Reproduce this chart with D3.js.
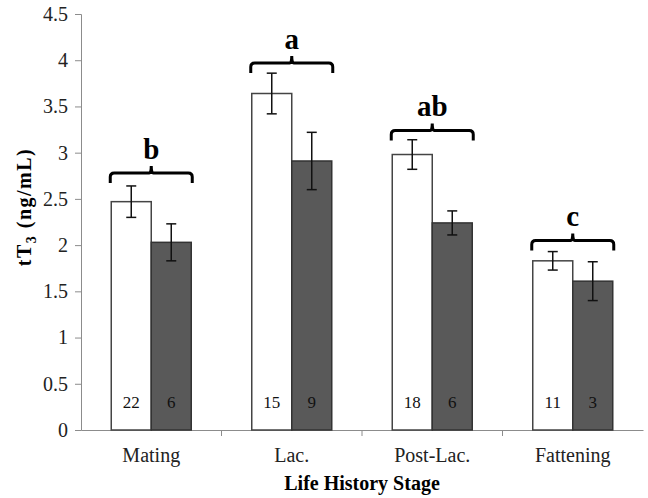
<!DOCTYPE html>
<html>
<head>
<meta charset="utf-8">
<script src="https://cdn.jsdelivr.net/npm/d3@7"></script>
<style>
  body { margin: 0; background: #fff; }
</style>
</head>
<body>
<div id="chart"></div>
<script>
// waarden
const stages = ["Mating", "Lac.", "Post-Lac.", "Fattening"];
const whiteMean = [2.47, 3.64, 2.98, 1.83];
const whiteErr = [0.17, 0.22, 0.16, 0.10];
const darkMean = [2.03, 2.91, 2.24, 1.61];
const darkErr = [0.20, 0.31, 0.13, 0.21];
const whiteN = [22, 15, 18, 11];
const darkN = [6, 9, 6, 3];
const groupLetters = ["b", "a", "ab", "c"];
const bracketLevel = [2.78, 3.97, 3.24, 2.05];
const yTicks = [0, 0.5, 1, 1.5, 2, 2.5, 3, 3.5, 4, 4.5];

const width = 648, height = 498;
const margin = {top: 14, right: 5, bottom: 68, left: 81};
const serif = '"Liberation Serif", "Times New Roman", serif';

const svg = d3.select("#chart").append("svg")
    .attr("width", width)
    .attr("height", height);

const x = d3.scaleBand()
    .domain(stages)
    .range([margin.left, width - margin.right])
    .paddingInner(0)
    .paddingOuter(0);

const y = d3.scaleLinear()
    .domain([0, 4.5])
    .range([height - margin.bottom, margin.top]);

const barW = 40;
const rows = stages.map((s, i) => ({
  stage: s, i,
  cx: x(s) + x.bandwidth() / 2
}));

// y as
const yAxis = svg.append("g")
    .attr("transform", `translate(${margin.left},0)`)
    .call(d3.axisLeft(y).tickValues(yTicks).tickSize(6).tickPadding(7).tickFormat(d3.format("")));
yAxis.selectAll("path, line").attr("stroke", "#8c8c8c");
yAxis.selectAll("text").attr("font-size", 20).attr("fill", "#222").style("font-family", serif);

// x as
const xAxis = svg.append("g")
    .attr("transform", `translate(0,${y(0)})`)
    .call(d3.axisBottom(x).tickSize(0).tickPadding(18));
xAxis.select("path").attr("stroke", "#8c8c8c");
xAxis.selectAll("text").attr("font-size", 20).attr("fill", "#222").style("font-family", serif);
// streepjes tussen de categorieën
svg.append("g").selectAll("line")
    .data(stages.slice(1))
    .join("line")
    .attr("x1", d => x(d)).attr("x2", d => x(d))
    .attr("y1", y(0)).attr("y2", y(0) + 6)
    .attr("stroke", "#8c8c8c");

// staven
const bars = [
  {key: "w", mean: whiteMean, err: whiteErr, n: whiteN, fill: "#ffffff", stroke: "#444", off: -barW},
  {key: "d", mean: darkMean, err: darkErr, n: darkN, fill: "#595959", stroke: "#333", off: 0}
];

bars.forEach(b => {
  const g = svg.append("g");
  g.selectAll("rect")
    .data(rows)
    .join("rect")
    .attr("x", d => d.cx + b.off)
    .attr("y", d => y(b.mean[d.i]))
    .attr("width", barW)
    .attr("height", d => y(0) - y(b.mean[d.i]))
    .attr("fill", b.fill)
    .attr("stroke", b.stroke)
    .attr("stroke-width", 1.5);

  // foutbalken
  const eg = g.selectAll("g.err")
    .data(rows)
    .join("g")
    .attr("stroke", "#111")
    .attr("stroke-width", 1.5);
  eg.append("line")
    .attr("x1", d => d.cx + b.off + barW / 2).attr("x2", d => d.cx + b.off + barW / 2)
    .attr("y1", d => y(b.mean[d.i] + b.err[d.i]))
    .attr("y2", d => y(b.mean[d.i] - b.err[d.i]));
  eg.append("line")
    .attr("x1", d => d.cx + b.off + barW / 2 - 5).attr("x2", d => d.cx + b.off + barW / 2 + 5)
    .attr("y1", d => y(b.mean[d.i] + b.err[d.i]))
    .attr("y2", d => y(b.mean[d.i] + b.err[d.i]));
  eg.append("line")
    .attr("x1", d => d.cx + b.off + barW / 2 - 5).attr("x2", d => d.cx + b.off + barW / 2 + 5)
    .attr("y1", d => y(b.mean[d.i] - b.err[d.i]))
    .attr("y2", d => y(b.mean[d.i] - b.err[d.i]));

  // aantallen
  g.selectAll("text.n")
    .data(rows)
    .join("text")
    .attr("x", d => d.cx + b.off + barW / 2)
    .attr("y", y(0) - 22)
    .attr("text-anchor", "middle")
    .attr("font-size", 17)
    .attr("fill", "#111")
    .style("font-family", serif)
    .text(d => b.n[d.i]);
});

// accolades met letters
const bg = svg.append("g");
rows.forEach(d => {
  const yb = y(bracketLevel[d.i]);
  const x0 = d.cx - barW - 1, x1 = d.cx + barW + 1, r = 4;
  const p = d3.path();
  p.moveTo(x0, yb + 10);
  p.lineTo(x0, yb + r);
  p.quadraticCurveTo(x0, yb, x0 + r, yb);
  p.lineTo(d.cx - 2, yb);
  p.quadraticCurveTo(d.cx, yb, d.cx, yb - 7);
  p.quadraticCurveTo(d.cx, yb, d.cx + 2, yb);
  p.lineTo(x1 - r, yb);
  p.quadraticCurveTo(x1, yb, x1, yb + r);
  p.lineTo(x1, yb + 10);
  bg.append("path")
    .attr("d", p.toString())
    .attr("fill", "none")
    .attr("stroke", "#000")
    .attr("stroke-width", 3);
  bg.append("text")
    .attr("x", d.cx)
    .attr("y", yb - 14)
    .attr("text-anchor", "middle")
    .attr("font-size", 29)
    .attr("font-weight", "bold")
    .style("font-family", serif)
    .text(groupLetters[d.i]);
});

// astitels
svg.append("text")
    .attr("x", (margin.left + width - margin.right) / 2)
    .attr("y", 490)
    .attr("text-anchor", "middle")
    .attr("font-size", 20)
    .attr("font-weight", "bold")
    .style("font-family", serif)
    .text("Life History Stage");

const yt = svg.append("text")
    .attr("transform", `translate(31,207) rotate(-90)`)
    .attr("text-anchor", "middle")
    .attr("font-size", 20)
    .attr("font-weight", "bold")
    .attr("letter-spacing", 1.5)
    .style("font-family", serif);
yt.append("tspan").text("tT");
yt.append("tspan").attr("dy", 5).attr("font-size", 14).text("3");
yt.append("tspan").attr("dy", -5).text(" (ng/mL)");
</script>
</body>
</html>
